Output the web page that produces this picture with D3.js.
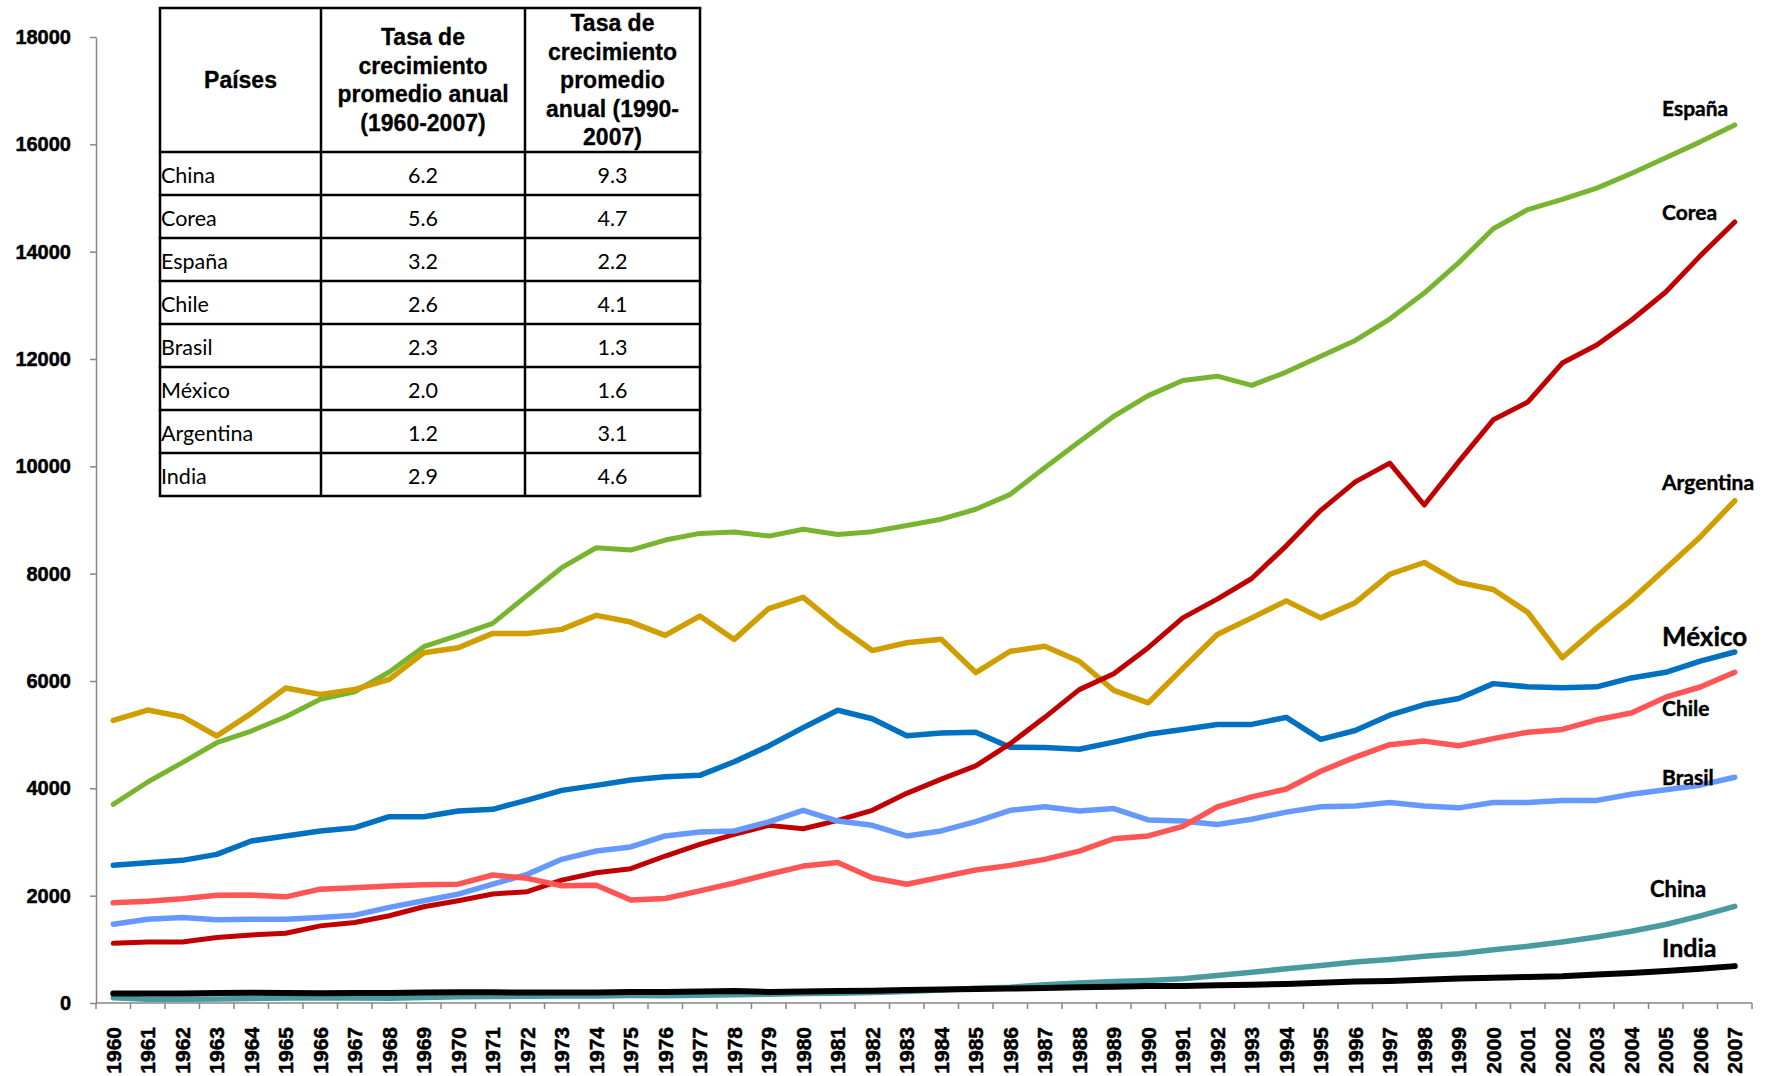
<!DOCTYPE html>
<html><head><meta charset="utf-8">
<script src="https://cdn.jsdelivr.net/npm/d3@7"></script>
<style>
html,body{margin:0;padding:0;background:#fff;}
svg{display:block;}
</style></head>
<body>
<svg id="chart" width="1769" height="1076"></svg>
<script>
const years = ["1960","1961","1962","1963","1964","1965","1966","1967","1968","1969",
"1970","1971","1972","1973","1974","1975","1976","1977","1978","1979",
"1980","1981","1982","1983","1984","1985","1986","1987","1988","1989",
"1990","1991","1992","1993","1994","1995","1996","1997","1998","1999",
"2000","2001","2002","2003","2004","2005","2006","2007"];

const espana = [3700,4118,4478,4850,5068,5335,5658,5800,6167,6639,
6850,7074,7595,8111,8483,8440,8626,8750,8775,8700,
8829,8730,8783,8896,9015,9200,9478,9974,10457,10933,
11317,11600,11680,11510,11756,12050,12345,12744,13228,13796,
14427,14784,14973,15184,15457,15751,16046,16361];
const corea = [1112,1137,1137,1219,1269,1300,1437,1500,1625,1794,
1906,2031,2075,2290,2428,2503,2739,2956,3143,3310,
3246,3404,3590,3907,4172,4417,4833,5323,5839,6137,
6620,7176,7526,7910,8519,9180,9710,10060,9279,10087,
10867,11198,11924,12260,12723,13249,13922,14553];
const argentina = [5267,5459,5335,4975,5397,5869,5751,5844,6030,6527,
6620,6887,6887,6962,7223,7098,6850,7210,6775,7350,
7559,7030,6567,6712,6778,6157,6554,6646,6368,5826,
5594,6236,6865,7176,7493,7176,7460,7989,8208,7837,
7705,7281,6434,6990,7508,8097,8685,9358];
const mexico = [2565,2615,2658,2770,3018,3112,3205,3267,3472,3472,
3577,3608,3782,3962,4055,4155,4217,4242,4495,4790,
5131,5455,5296,4979,5032,5045,4767,4761,4728,4860,
5006,5098,5191,5191,5323,4913,5078,5363,5561,5674,
5951,5892,5872,5892,6057,6162,6372,6540];
const chile = [1866,1897,1943,2009,2012,1978,2121,2146,2178,2205,
2215,2385,2323,2185,2193,1919,1947,2090,2236,2399,
2551,2617,2333,2214,2346,2478,2564,2677,2829,3060,
3113,3292,3656,3841,3987,4318,4582,4814,4880,4794,
4926,5045,5098,5277,5405,5699,5888,6162];
const brasil = [1469,1562,1594,1550,1562,1562,1594,1637,1781,1906,
2028,2215,2397,2677,2832,2907,3112,3186,3205,3375,
3590,3391,3312,3113,3206,3378,3590,3656,3576,3623,
3411,3391,3325,3424,3557,3656,3669,3735,3669,3636,
3735,3735,3775,3775,3890,3975,4059,4206];
const china = [100,72,68,74,82,92,100,93,88,102,
118,122,124,130,131,138,134,144,155,165,
175,182,196,214,243,273,293,338,375,400,
419,450,512,575,637,700,762,812,869,919,
994,1056,1137,1231,1337,1462,1625,1800];
const india = [175,175,178,185,190,185,180,185,188,195,
200,200,195,195,195,205,205,215,225,205,
215,225,230,244,250,262,270,278,294,305,
318,318,330,340,356,378,400,412,435,455,
469,485,500,530,560,595,637,687];

const yTicks = [0,2000,4000,6000,8000,10000,12000,14000,16000,18000];

const tablePaises = ["China","Corea","España","Chile","Brasil","México","Argentina","India"];
const tasa6007 = ["6.2","5.6","3.2","2.6","2.3","2.0","1.2","2.9"];
const tasa9007 = ["9.3","4.7","2.2","4.1","1.3","1.6","3.1","4.6"];
const headPaises = ["Países"];
const head6007 = ["Tasa de","crecimiento","promedio anual","(1960-2007)"];
const head9007 = ["Tasa de","crecimiento","promedio","anual (1990-","2007)"];

// drawing order (bottom to top)
const series = [
  {name:"España", values:espana, color:"#77B531", width:5, dy:-17, size:21},
  {name:"Argentina", values:argentina, color:"#D09E00", width:5.5, dy:-19, size:21},
  {name:"México", values:mexico, color:"#0070C0", width:5.5, dy:-16, size:26},
  {name:"Corea", values:corea, color:"#C00000", width:5, dy:-10, size:21},
  {name:"Brasil", values:brasil, color:"#6699FF", width:5.5, dy:-1, size:21},
  {name:"Chile", values:chile, color:"#FF5555", width:5.5, dy:35, size:21},
  {name:"China", values:china, color:"#4A9BA0", width:5.5, dy:-18, size:22, dx:-12},
  {name:"India", values:india, color:"#000000", width:6, dy:-19, size:25}
];

const svg = d3.select("#chart");
const plot = {left:96, right:1752, top:37, bottom:1003};

const x = d3.scaleBand().domain(years).range([plot.left, plot.right]).padding(0);
const y = d3.scaleLinear().domain([0,18000]).range([plot.bottom, plot.top]);
const cx = d => x(d) + x.bandwidth()/2;

const axisColor = "#868686";

// Y axis
const yAxis = d3.axisLeft(y).tickValues(yTicks).tickFormat(d3.format("d"))
  .tickSize(6).tickSizeOuter(0).tickPadding(19);
const gy = svg.append("g").attr("transform",`translate(${plot.left},0)`).call(yAxis);
gy.select(".domain").attr("stroke",axisColor).attr("stroke-width",1.5);
gy.selectAll(".tick line").attr("stroke",axisColor).attr("stroke-width",1.5);
gy.selectAll(".tick text").attr("fill","#000").attr("stroke","#000").attr("stroke-width",0.5)
  .style("font-family","'Liberation Sans', Arial, sans-serif")
  .style("font-weight","bold").style("font-size","20px");

// X axis: domain + boundary ticks
const gx = svg.append("g").attr("transform",`translate(0,${plot.bottom})`);
gx.append("line").attr("x1",plot.left).attr("x2",plot.right).attr("y1",0).attr("y2",0)
  .attr("stroke",axisColor).attr("stroke-width",1.5);
const bounds = years.map(d => x(d)).concat([x.range()[1]]);
gx.selectAll("line.bt").data(bounds).enter().append("line").attr("class","bt")
  .attr("x1",d=>d).attr("x2",d=>d).attr("y1",0).attr("y2",6)
  .attr("stroke",axisColor).attr("stroke-width",1.5);
gx.selectAll("text.xl").data(years).enter().append("text").attr("class","xl")
  .attr("transform", d => `translate(${cx(d)},${24}) rotate(-90)`)
  .attr("text-anchor","end").attr("dy","0.36em")
  .attr("stroke","#000").attr("stroke-width",0.5)
  .style("font-family","'Liberation Sans', Arial, sans-serif")
  .style("font-weight","bold").style("font-size","21px")
  .text(d=>d);

// Lines
const line = d3.line().x((v,i)=>cx(years[i])).y(v=>y(v));
svg.append("g").selectAll("path").data(series).enter().append("path")
  .attr("d", s => line(s.values))
  .attr("fill","none").attr("stroke", s=>s.color).attr("stroke-width", s=>s.width)
  .attr("stroke-linejoin","round").attr("stroke-linecap","round");

// Series labels
svg.append("g").selectAll("text").data(series).enter().append("text")
  .attr("x", s => plot.right - 90 + (s.dx||0))
  .attr("y", s => y(s.values[s.values.length-1]) + s.dy)
  .attr("dominant-baseline","central")
  .attr("stroke","#000").attr("stroke-width",0.4)
  .style("font-family","Lato, 'Open Sans', sans-serif")
  .style("font-weight","bold").style("font-size", s=>s.size+"px")
  .text(s=>s.name);

// Table
const tbl = {cols:[160,321,525,700], top:8, headBottom:152, rowH:43};
const tg = svg.append("g");
const nRows = tablePaises.length;
const tBottom = tbl.headBottom + nRows*tbl.rowH;
tg.append("rect").attr("x",tbl.cols[0]).attr("y",tbl.top)
  .attr("width",tbl.cols[3]-tbl.cols[0]).attr("height",tBottom-tbl.top)
  .attr("fill","#fff");
const hLines = [tbl.top, tbl.headBottom].concat(d3.range(1,nRows+1).map(i=>tbl.headBottom+i*tbl.rowH));
tg.selectAll("line.h").data(hLines).enter().append("line").attr("class","h")
  .attr("x1",tbl.cols[0]-1.25).attr("x2",tbl.cols[3]+1.25).attr("y1",d=>d).attr("y2",d=>d)
  .attr("stroke","#000").attr("stroke-width",2.5);
tg.selectAll("line.v").data(tbl.cols).enter().append("line").attr("class","v")
  .attr("x1",d=>d).attr("x2",d=>d).attr("y1",tbl.top).attr("y2",tBottom)
  .attr("stroke","#000").attr("stroke-width",2.5);

function header(lines, cxp) {
  const lh = 28.5;
  const mid = (tbl.top + tbl.headBottom)/2;
  const start = mid - (lines.length-1)*lh/2;
  tg.selectAll(null).data(lines).enter().append("text")
    .attr("x",cxp).attr("y",(d,i)=>start+i*lh)
    .attr("text-anchor","middle").attr("dominant-baseline","central")
    .attr("stroke","#000").attr("stroke-width",0.3)
    .style("font-family","'Liberation Sans', Arial, sans-serif")
    .style("font-weight","bold").style("font-size","23px")
    .text(d=>d);
}
header(headPaises, (tbl.cols[0]+tbl.cols[1])/2);
header(head6007, (tbl.cols[1]+tbl.cols[2])/2);
header(head9007, (tbl.cols[2]+tbl.cols[3])/2);

const bodyFont = "Lato, 'Open Sans', sans-serif";
tablePaises.forEach((p,i)=>{
  const ym = tbl.headBottom + (i+0.5)*tbl.rowH + 1;
  tg.append("text").attr("x",tbl.cols[0]+1).attr("y",ym).attr("dominant-baseline","central")
    .style("font-family",bodyFont).style("font-size","21.5px").text(p);
  tg.append("text").attr("x",(tbl.cols[1]+tbl.cols[2])/2).attr("y",ym)
    .attr("text-anchor","middle").attr("dominant-baseline","central")
    .style("font-family",bodyFont).style("font-size","21.5px").text(tasa6007[i]);
  tg.append("text").attr("x",(tbl.cols[2]+tbl.cols[3])/2).attr("y",ym)
    .attr("text-anchor","middle").attr("dominant-baseline","central")
    .style("font-family",bodyFont).style("font-size","21.5px").text(tasa9007[i]);
});
</script>
</body></html>
